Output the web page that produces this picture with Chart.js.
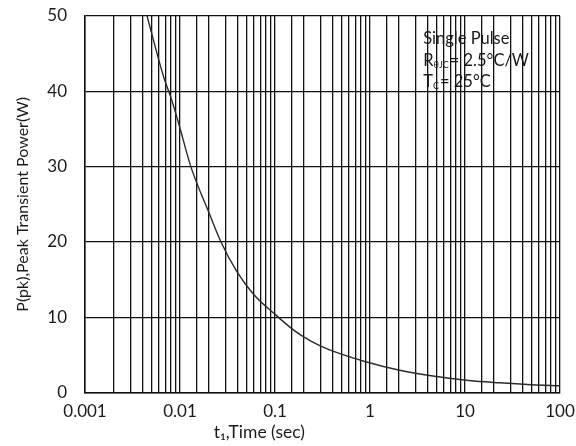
<!DOCTYPE html>
<html>
<head>
<meta charset="utf-8">
<script src="https://cdn.jsdelivr.net/npm/chart.js@4.4.1/dist/chart.umd.min.js"></script>
<style>
  body { margin: 0; background: #fff; }
  #wrap { width: 576px; height: 446px; position: relative; }
</style>
</head>
<body>
<div id="wrap"><canvas id="pulseChart"></canvas></div>
<script>
// pulse width (sec) and peak transient power (W)
var pulseTime = [0.0045, 0.0067, 0.0082, 0.0098, 0.013, 0.02, 0.027, 0.04, 0.06, 0.1, 0.15, 0.2, 0.3, 0.45, 0.9, 2, 4.6, 11, 23, 50, 100];
var peakPower = [50, 42, 38.8, 35.5, 30, 24, 20, 16, 13, 10.4, 8.5, 7.4, 6.2, 5.3, 4.1, 3.0, 2.2, 1.6, 1.3, 1.05, 0.9];

var xDecades = [0.001, 0.01, 0.1, 1, 10, 100];
var xTickLabels = ['0.001', '0.01', '0.1', '1', '10', '100'];
var yTicks = [0, 10, 20, 30, 40, 50];

var fontFamily = 'Lato, "Open Sans", sans-serif';
var textColor = '#1a1a1a';

var points = pulseTime.map(function (t, i) { return { x: t, y: peakPower[i] }; });

// text drawn over the plot (note box + x title)
var notes = {
    id: 'notes',
    afterDraw: function (chart) {
        var ctx = chart.ctx;
        var a = chart.chartArea;
        var w = a.right - a.left;
        ctx.save();
        ctx.fillStyle = textColor;
        ctx.textBaseline = 'middle';
        ctx.textAlign = 'left';

        var x0 = a.left + 0.712 * w;
        var big = '16.5px ' + fontFamily;
        var small = '9px ' + fontFamily;

        ctx.font = big;
        ctx.fillText('Single Pulse', x0, 39);

        // R thetaJC line
        var x = x0;
        ctx.fillText('R', x, 61);
        x += ctx.measureText('R').width;
        ctx.font = small;
        ctx.fillText('θJC', x, 65);
        x += ctx.measureText('θJC').width + 1;
        ctx.font = big;
        ctx.fillText('= 2.5°C/W', x, 61);

        // Tc line
        x = x0;
        ctx.fillText('T', x, 82);
        x += ctx.measureText('T').width;
        ctx.font = small;
        ctx.fillText('C', x, 86);
        x += ctx.measureText('C').width + 1;
        ctx.font = big;
        ctx.fillText('= 25°C', x, 82);

        // x axis title, sits left of centre in the original
        ctx.textAlign = 'center';
        ctx.font = '17.5px ' + fontFamily;
        ctx.fillText('t\u2081,Time (sec)', a.left + 0.367 * w, 432);
        ctx.restore();
    }
};

var ctx = document.getElementById('pulseChart').getContext('2d');
var chart = new Chart(ctx, {
    type: 'line',
    data: {
        datasets: [{
            label: 'Peak Transient Power',
            data: points,
            borderColor: '#2b2b2b',
            borderWidth: 1.4,
            pointRadius: 0,
            fill: false,
            cubicInterpolationMode: 'monotone'
        }]
    },
    options: {
        responsive: true,
        maintainAspectRatio: false,
        animation: false,
        layout: { padding: { left: 0, right: 16, top: 16, bottom: 15 } },
        plugins: {
            legend: { display: false },
            tooltip: { enabled: false }
        },
        scales: {
            x: {
                type: 'logarithmic',
                min: 0.001,
                max: 100,
                afterFit: function (scale) { scale.paddingLeft = 0; scale.paddingRight = 0; },
                border: { color: '#111', width: 1.5 },
                grid: { color: '#111', lineWidth: 1.3, drawTicks: false },
                ticks: {
                    autoSkip: false,
                    maxRotation: 0,
                    padding: 9,
                    color: textColor,
                    font: { family: fontFamily, size: 17 },
                    callback: function (value) {
                        for (var i = 0; i < xDecades.length; i++) {
                            if (Math.abs(Math.log10(value) - Math.log10(xDecades[i])) < 1e-6) return xTickLabels[i];
                        }
                        return '';
                    }
                }
            },
            y: {
                min: 0,
                max: 50,
                afterFit: function (scale) {
                    scale.width = 85;
                    scale.paddingTop = 0;
                    scale.paddingBottom = 0;
                },
                afterBuildTicks: function (scale) {
                    scale.ticks = yTicks.map(function (v) { return { value: v }; });
                },
                border: { color: '#111', width: 1.5 },
                grid: { color: '#111', lineWidth: 1.3, drawTicks: false },
                ticks: {
                    padding: 18,
                    color: textColor,
                    font: { family: fontFamily, size: 17 }
                },
                title: {
                    display: true,
                    text: 'P(pk),Peak Transient Power(W)',
                    color: textColor,
                    font: { family: fontFamily, size: 16 },
                    padding: { top: 13, bottom: 0 }
                }
            }
        }
    },
    plugins: [notes]
});
</script>
</body>
</html>
